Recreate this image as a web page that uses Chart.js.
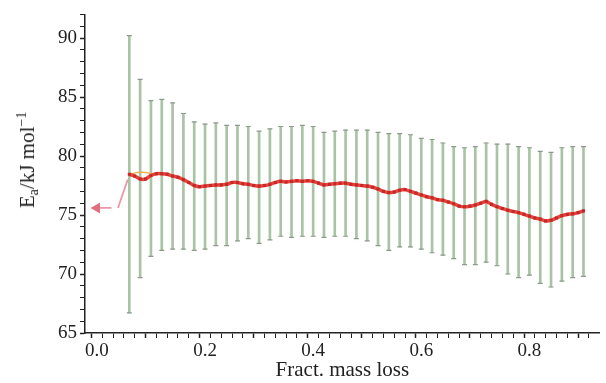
<!DOCTYPE html>
<html lang="en">
<head>
    <meta charset="UTF-8">
    <title>Activation energy vs fractional mass loss</title>
    <script src="https://cdn.jsdelivr.net/npm/chart.js"></script>
    <style>
        * { margin: 0; padding: 0; box-sizing: border-box; }
        body { background: #ffffff; width: 606px; height: 383px; overflow: hidden; }
        .wrap { position: relative; width: 606px; height: 383px; }
        .ytitle {
            position: absolute;
            left: 28px;
            top: 160px;
            transform: translate(-50%, -50%) rotate(-90deg);
            white-space: nowrap;
            font-family: 'Liberation Serif', 'DejaVu Serif', serif;
            font-size: 21px;
            color: #222;
        }
        .ytitle sub { font-size: 14px; vertical-align: -4px; }
        .ytitle sup { font-size: 14px; vertical-align: 8px; }
    </style>
</head>
<body>
<div class="wrap">
    <canvas id="chart" width="606" height="383"></canvas>
    <div class="ytitle">E<sub>a</sub>/kJ mol<sup>−1</sup></div>
</div>

<script>
    // mean activation energy, one reading every 0.01 of mass loss
    const meanX = [0.06, 0.07, 0.08, 0.09, 0.10, 0.11, 0.12, 0.13, 0.14, 0.15,
        0.16, 0.17, 0.18, 0.19, 0.20, 0.21, 0.22, 0.23, 0.24, 0.25,
        0.26, 0.27, 0.28, 0.29, 0.30, 0.31, 0.32, 0.33, 0.34, 0.35,
        0.36, 0.37, 0.38, 0.39, 0.40, 0.41, 0.42, 0.43, 0.44, 0.45,
        0.46, 0.47, 0.48, 0.49, 0.50, 0.51, 0.52, 0.53, 0.54, 0.55,
        0.56, 0.57, 0.58, 0.59, 0.60, 0.61, 0.62, 0.63, 0.64, 0.65,
        0.66, 0.67, 0.68, 0.69, 0.70, 0.71, 0.72, 0.73, 0.74, 0.75,
        0.76, 0.77, 0.78, 0.79, 0.80, 0.81, 0.82, 0.83, 0.84, 0.85,
        0.86, 0.87, 0.88, 0.89, 0.90];
    const meanEa = [78.45, 78.3, 78.05, 78.05, 78.35, 78.5, 78.5, 78.45, 78.3, 78.2,
        78.0, 77.75, 77.5, 77.4, 77.45, 77.5, 77.55, 77.55, 77.6, 77.75,
        77.75, 77.65, 77.6, 77.5, 77.45, 77.5, 77.6, 77.75, 77.85, 77.8,
        77.85, 77.9, 77.85, 77.9, 77.85, 77.7, 77.55, 77.6, 77.65, 77.7,
        77.7, 77.6, 77.55, 77.5, 77.45, 77.35, 77.2, 77.0, 76.9, 76.95,
        77.1, 77.15, 77.0, 76.85, 76.7, 76.55, 76.45, 76.3, 76.25, 76.1,
        75.95, 75.75, 75.7, 75.75, 75.85, 76.0, 76.15, 75.9, 75.7, 75.55,
        75.4, 75.3, 75.2, 75.05, 74.9, 74.75, 74.65, 74.5, 74.55, 74.75,
        74.95, 75.05, 75.1, 75.2, 75.35];

    // upper arc of the small loop near the start
    const loopX = [0.062, 0.075, 0.09, 0.105];
    const loopEa = [78.45, 78.6, 78.6, 78.45];

    // initial values before the main curve (null = gap)
    const startX = [0.0, 0.027, 0.03, 0.039, 0.057];
    const startEa = [75.6, 75.6, null, 75.6, 78.0];

    // error bars, every 0.02
    const errX = [0.06, 0.08, 0.10, 0.12, 0.14, 0.16, 0.18, 0.20, 0.22, 0.24,
        0.26, 0.28, 0.30, 0.32, 0.34, 0.36, 0.38, 0.40, 0.42, 0.44,
        0.46, 0.48, 0.50, 0.52, 0.54, 0.56, 0.58, 0.60, 0.62, 0.64,
        0.66, 0.68, 0.70, 0.72, 0.74, 0.76, 0.78, 0.80, 0.82, 0.84,
        0.86, 0.88, 0.90];
    const errHigh = [90.2, 86.5, 84.7, 84.8, 84.5, 83.6, 82.9, 82.7, 82.8, 82.6,
        82.6, 82.5, 82.1, 82.3, 82.5, 82.5, 82.6, 82.5, 82.0, 82.1,
        82.2, 82.2, 82.2, 82.0, 81.9, 81.9, 81.8, 81.5, 81.4, 81.1,
        80.8, 80.7, 80.8, 81.1, 81.0, 81.0, 80.8, 80.7, 80.4, 80.3,
        80.7, 80.8, 80.8];
    const errLow = [66.7, 69.7, 71.5, 72.0, 72.1, 72.1, 72.0, 72.1, 72.4, 72.4,
        72.8, 73.0, 72.6, 72.9, 73.2, 73.1, 73.2, 73.2, 73.1, 73.2,
        73.2, 73.0, 72.8, 72.4, 72.0, 72.3, 72.3, 72.1, 71.8, 71.6,
        71.3, 70.8, 70.8, 71.0, 70.7, 70.0, 69.7, 69.9, 69.2, 68.9,
        69.4, 69.7, 69.8];

    const serif = "'Liberation Serif', 'DejaVu Serif', serif";
    const ink = '#222222';

    const pts = (xs, ys) => xs.map((x, i) => ({ x: x, y: ys[i] }));
    const barData = errX.map((x, i) => ({ x: x, y: [errLow[i], errHigh[i]] }));
    const capData = errX.map((x, i) => ({ x: x, y: errHigh[i] }))
        .concat(errX.map((x, i) => ({ x: x, y: errLow[i] })));

    // heavier tick at every labelled/half step
    const xTickW = c => (c.tick && Math.round(c.tick.value * 100) % 10 === 0 ? 1.5 : 1);
    const yTickW = c => (c.tick && c.tick.value % 5 === 0 ? 1.5 : 1);

    new Chart(document.getElementById('chart'), {
        type: 'scatter',
        data: {
            datasets: [
                {
                    type: 'bar',
                    data: barData,
                    backgroundColor: '#a8c4a4',
                    borderWidth: 0,
                    barThickness: 2,
                    grouped: false,
                    order: 5
                },
                {
                    data: capData,
                    pointStyle: 'line',
                    pointRadius: 2.5,
                    borderColor: '#8c9a8c',
                    borderWidth: 1.2,
                    order: 4
                },
                {
                    type: 'line',
                    data: pts(startX, startEa),
                    borderColor: '#e79aa6',
                    borderWidth: 1.8,
                    pointRadius: [4.5, 0, 0, 0, 0],
                    pointStyle: 'triangle',
                    rotation: -90,
                    pointBackgroundColor: '#e06f82',
                    pointBorderColor: '#e06f82',
                    spanGaps: false,
                    order: 2
                },
                {
                    type: 'line',
                    data: pts(loopX, loopEa),
                    borderColor: '#ecb04c',
                    borderWidth: 1.5,
                    tension: 0.4,
                    pointRadius: 0,
                    order: 3
                },
                {
                    type: 'line',
                    data: pts(meanX, meanEa),
                    borderColor: '#e8443a',
                    borderWidth: 3.5,
                    tension: 0.2,
                    pointRadius: 2.2,
                    pointStyle: 'rect',
                    pointBackgroundColor: '#c4282a',
                    pointBorderColor: '#c4282a',
                    pointBorderWidth: 0,
                    order: 1
                }
            ]
        },
        options: {
            responsive: false,
            animation: false,
            layout: { padding: { top: 14, right: 6, left: 0, bottom: 0 } },
            plugins: {
                legend: { display: false },
                tooltip: { enabled: false }
            },
            scales: {
                x: {
                    type: 'linear',
                    min: -0.022,
                    max: 0.93,
                    offset: false,
                    border: { color: ink, width: 1.5 },
                    grid: { drawOnChartArea: false, tickLength: 5, tickColor: ink, tickWidth: xTickW },
                    afterBuildTicks: s => {
                        s.ticks = s.ticks.filter(t => t.value > -1e-9 && t.value < 0.925);
                    },
                    afterFit: s => { s.height = 50; },
                    ticks: {
                        stepSize: 0.02,
                        autoSkip: false,
                        maxRotation: 0,
                        padding: 2,
                        color: ink,
                        font: { family: serif, size: 19 },
                        callback: v => (Math.round(v * 100) % 20 === 0 ? v.toFixed(1) : '')
                    },
                    title: {
                        display: true,
                        text: 'Fract. mass loss',
                        color: ink,
                        padding: 0,
                        font: { family: serif, size: 21 }
                    }
                },
                y: {
                    min: 65,
                    max: 92,
                    border: { color: ink, width: 1.5 },
                    grid: { drawOnChartArea: false, tickLength: 5, tickColor: ink, tickWidth: yTickW },
                    afterBuildTicks: s => {
                        s.ticks = s.ticks.filter(t => Number.isInteger(t.value));
                    },
                    afterFit: s => { s.width = 85; },
                    ticks: {
                        stepSize: 1,
                        autoSkip: false,
                        padding: 3,
                        color: ink,
                        font: { family: serif, size: 19 },
                        callback: v => (v % 5 === 0 ? v : '')
                    }
                }
            }
        }
    });
</script>
</body>
</html>
